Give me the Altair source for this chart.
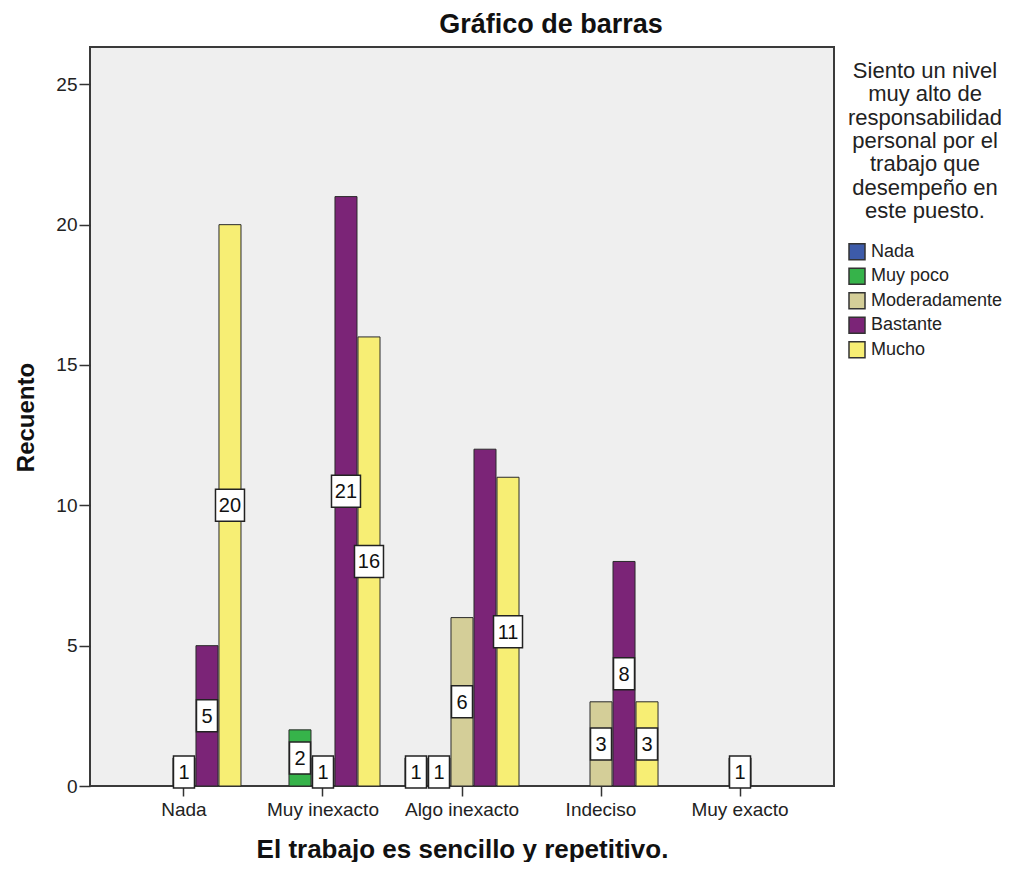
import altair as alt
import pandas as pd

categories = ["Nada", "Muy inexacto", "Algo inexacto", "Indeciso", "Muy exacto"]
series = ["Nada", "Muy poco", "Moderadamente", "Bastante", "Mucho"]
colors = ["#3d5ba9", "#36b34a", "#d4ce98", "#7b2477", "#f7ee74"]

# counts per x-category for each legend series
nada = [0, 0, 1, 0, 0]
muy_poco = [0, 2, 1, 0, 0]
moderadamente = [1, 1, 6, 3, 1]
bastante = [5, 21, 12, 8, 0]
mucho = [20, 16, 11, 3, 0]

# value labels not shown in the reference (hidden by overlap)
hidden_labels = [("Algo inexacto", "Bastante")]

rows = []
for s, vals in zip(series, [nada, muy_poco, moderadamente, bastante, mucho]):
    for c, v in zip(categories, vals):
        if v > 0:
            rows.append({"cat": c, "serie": s, "value": v,
                         "show": (c, s) not in hidden_labels})
df = pd.DataFrame(rows)

FONT = "Liberation Sans"

x_enc = alt.X(
    "cat:N", sort=categories,
    scale=alt.Scale(paddingInner=0, paddingOuter=0.176),
    axis=alt.Axis(title="El trabajo es sencillo y repetitivo.", labelAngle=0,
                  domain=False, tickSize=10, tickWidth=1.5, tickColor="#333",
                  labelPadding=4, labelFontSize=19, labelColor="#222", labelFont=FONT,
                  titleFontSize=26, titleFont=FONT, titleFontWeight="bold", titleColor="#111",
                  titleBaseline="alphabetic", titleY=71),
)
xo_enc = alt.XOffset("serie:N", sort=series,
                     scale=alt.Scale(paddingInner=0.043, paddingOuter=0.543))
y_scale = alt.Scale(domain=[0, 26.33], nice=False, zero=True)

bars = alt.Chart(df).mark_bar(stroke="#2a2a2a", strokeWidth=1).encode(
    x=x_enc,
    xOffset=xo_enc,
    y=alt.Y("value:Q", scale=y_scale,
            axis=alt.Axis(title="Recuento", values=[0, 5, 10, 15, 20, 25], grid=False,
                          domain=False, tickSize=11, tickWidth=1.5, tickColor="#333",
                          labelPadding=2, labelFontSize=19, labelColor="#222", labelFont=FONT,
                          titleFontSize=24, titleFont=FONT, titleFontWeight="bold",
                          titleColor="#111", titleBaseline="alphabetic", titleX=-57,
                          titleY=370, titleAlign="center")),
    color=alt.Color("serie:N", sort=series,
                    scale=alt.Scale(domain=series, range=colors),
                    legend=alt.Legend(
                        title=["Siento un nivel", "muy alto de", "responsabilidad",
                               "personal por el", "trabajo que", "desempeño en",
                               "este puesto."],
                        orient="none", legendX=758, legendY=14,
                        titleFontSize=22, titleFontWeight="normal", titleFont=FONT,
                        titleLineHeight=23.3, titleAnchor="middle", titleAlign="center",
                        titlePadding=20, titleLimit=300, titleColor="#222",
                        labelFontSize=18, labelFont=FONT, labelColor="#222",
                        labelOffset=5, labelLimit=300,
                        symbolType="square", symbolSize=256, symbolStrokeColor="#333",
                        symbolStrokeWidth=1.5, symbolOpacity=1, rowPadding=2.5)),
)

box_small = "M-0.656,-1H0.656V1H-0.656Z"
box_big = "M-0.906,-1H0.906V1H-0.906Z"

base_lbl = alt.Chart(df).transform_filter("datum.show").transform_calculate(
    mid="datum.value / 2").encode(
    x=alt.X("cat:N", sort=categories),
    xOffset=alt.XOffset("serie:N", sort=series),
    y=alt.Y("mid:Q"),
)
box1 = base_lbl.transform_filter("datum.value < 10").mark_point(
    shape=box_small, size=1024, filled=True, fill="white", stroke="#222",
    strokeWidth=1.5, opacity=1)
box2 = base_lbl.transform_filter("datum.value >= 10").mark_point(
    shape=box_big, size=1024, filled=True, fill="white", stroke="#222",
    strokeWidth=1.5, opacity=1)
txt = base_lbl.mark_text(fontSize=20, font=FONT, color="#111", baseline="middle", dy=1).encode(
    text="value:Q")

chart = alt.layer(bars, box1, box2, txt).properties(
    width=744, height=739,
    title=alt.TitleParams("Gráfico de barras", fontSize=27, fontWeight="bold", font=FONT,
                          color="#111", anchor="middle", dx=89, offset=8),
    autosize=alt.AutoSizeParams(type="none"),
    padding={"left": 82, "top": 39, "right": 173, "bottom": 76},
).configure_view(fill="#efefef", stroke="#3a3a3a", strokeWidth=2)

chart.save("out.html", embed_options={"renderer": "svg", "actions": False})
